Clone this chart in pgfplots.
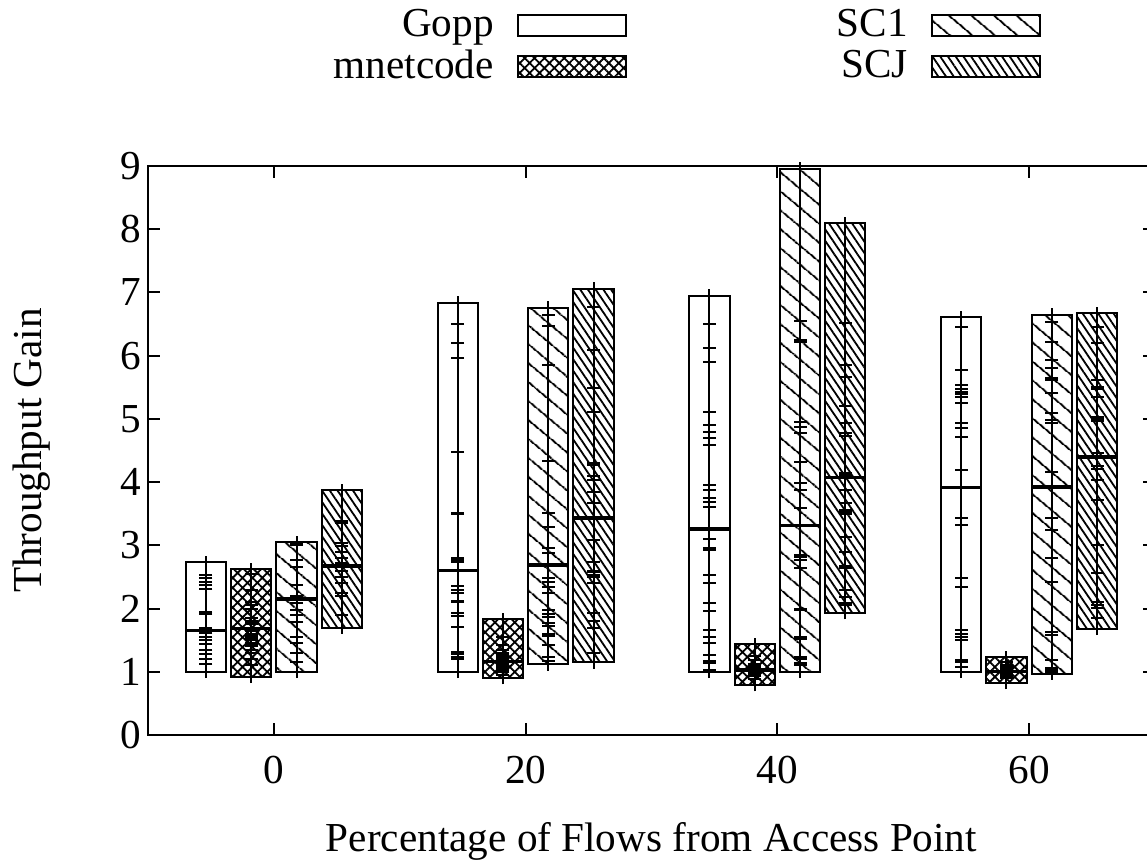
\documentclass[border=0pt]{standalone}
\usepackage{fontspec}
\setmainfont{Liberation Serif}
\usepackage{pgfplots}
\pgfplotsset{compat=1.18}
\usetikzlibrary{patterns,patterns.meta}

\tikzset{
  gopp/.style={fill=white},
  mnet/.style={pattern={Hatch[angle=45,distance=3.5pt,line width=0.9pt]}},
  sca/.style={pattern={Lines[angle=-40,distance=7.4pt,line width=1pt]}},
  scj/.style={pattern={Lines[angle=-56,distance=3.2pt,line width=0.9pt]}},
}
\newcommand{\lfont}{\fontsize{20.6pt}{24pt}\selectfont}

% #1 centre, #2 bottom, #3 top, #4 median, #5 fill style, #6 values
\newcommand{\bx}[6]{%
  \addplot[forget plot, draw=black, line width=1pt, line cap=rect, line join=miter, #5]
    table[row sep=\\, x expr=\thisrow{x}+(#1)] {x y\\ -1.6 #2\\ 1.6 #2\\ 1.6 #3\\ -1.6 #3\\ -1.6 #2\\};
  \addplot[forget plot, black, line width=1pt]
    table[row sep=\\, x expr=#1, y expr=\thisrow{y}+\thisrow{d}] {y d\\ #2 -0.1\\ #3 0.1\\};
  \addplot[forget plot, black, line width=1.7pt]
    table[row sep=\\, x expr=\thisrow{x}+(#1)] {x y\\ -1.6 #4\\ 1.6 #4\\};
  \addplot[forget plot, black, only marks, mark=-, mark size=3.25pt, mark options={line width=1pt}]
    table[row sep=\\, header=false, x expr=#1, y index=0] {#6};
}

\begin{document}
\begin{tikzpicture}
\begin{axis}[
  at={(0,0)}, anchor=south west,
  scale only axis, width=503.5pt, height=284.5pt,
  xmin=-10, xmax=70, ymin=0, ymax=9,
  xtick={0,20,40,60}, ytick={0,1,...,9},
  tick align=inside, tick pos=both,
  xticklabel pos=lower, yticklabel pos=left,
  major tick length=6pt,
  every tick/.style={black, line width=1pt},
  axis line style={line width=1pt},
  clip=false,
  font=\lfont,
  tick label style={font=\lfont},
  xticklabel style={yshift=-7pt},
  label style={font=\lfont},
  /pgf/number format/assume math mode=true,
  xlabel={Percentage of Flows from Access Point},
  ylabel={Throughput Gain},
  xlabel style={at={(axis description cs:0.5,-0.187)}, anchor=center},
  ylabel style={at={(axis description cs:-0.116,0.5)}, anchor=center},
  legend columns=2, legend plot pos=right, legend cell align=right,
  legend style={draw=none, fill=none, font=\lfont,
    at={(axis description cs:0.176,1.286)}, anchor=north west,
    nodes={inner sep=1pt}, row sep=3pt,
    /tikz/every odd column/.append style={column sep=10.5pt},
    /tikz/column 2/.append style={column sep=104pt}},
]
\addlegendimage{legend image code/.code={\draw[line width=1pt,gopp] (0pt,-5.5pt) rectangle (54pt,5pt);}}
\addlegendentry{Gopp}
\addlegendimage{legend image code/.code={\draw[line width=1pt,sca] (0pt,-5.5pt) rectangle (54pt,5pt);}}
\addlegendentry{SC1}
\addlegendimage{legend image code/.code={\draw[line width=1pt,mnet] (0pt,-5.5pt) rectangle (54pt,5pt);}}
\addlegendentry{mnetcode}
\addlegendimage{legend image code/.code={\draw[line width=1pt,scj] (0pt,-5.5pt) rectangle (54pt,5pt);}}
\addlegendentry{SCJ}

% group 0
\bx{-5.4}{1.0}{2.73}{1.65}{gopp}{1.12\\1.2\\1.28\\1.34\\1.44\\1.5\\1.55\\1.62\\1.7\\1.91\\1.95\\2.31\\2.37\\2.42\\2.48\\2.53\\}
\bx{-1.8}{0.92}{2.62}{1.68}{mnet}{1.1\\1.2\\1.3\\1.35\\1.4\\1.43\\1.46\\1.5\\1.53\\1.57\\1.6\\1.64\\1.75\\1.78\\1.81\\1.85\\2.0\\2.05\\2.1\\2.3\\2.55\\}
\bx{1.8}{1.0}{3.05}{2.15}{sca}{1.15\\1.3\\1.45\\1.55\\1.79\\1.9\\1.98\\2.09\\2.2\\2.37\\2.66\\2.77\\3.0\\3.02\\}
\bx{5.4}{1.7}{3.87}{2.67}{scj}{1.9\\2.2\\2.25\\2.4\\2.5\\2.6\\2.72\\2.8\\2.9\\2.99\\3.04\\3.35\\3.38\\}
% group 20
\bx{14.6}{1.0}{6.84}{2.6}{gopp}{1.2\\1.24\\1.28\\1.31\\1.71\\1.88\\1.93\\2.1\\2.12\\2.25\\2.3\\2.36\\2.73\\2.77\\2.8\\3.49\\3.51\\4.48\\5.97\\6.2\\6.5\\}
\bx{18.2}{0.9}{1.83}{1.16}{mnet}{0.95\\1.0\\1.03\\1.06\\1.08\\1.1\\1.12\\1.14\\1.18\\1.2\\1.23\\1.26\\1.3\\1.35\\1.42\\1.55\\}
\bx{21.8}{1.12}{6.76}{2.69}{sca}{1.17\\1.23\\1.42\\1.56\\1.6\\1.72\\1.77\\1.87\\1.92\\1.98\\2.24\\2.34\\2.42\\2.48\\2.88\\2.96\\3.29\\3.51\\4.33\\5.85\\6.47\\6.65\\}
\bx{25.4}{1.15}{7.06}{3.43}{scj}{1.3\\1.69\\1.8\\1.93\\2.4\\2.5\\2.53\\2.58\\2.6\\2.73\\3.08\\3.67\\3.85\\4.03\\4.1\\4.27\\4.3\\5.11\\5.49\\6.09\\6.77\\}
% group 40
\bx{34.6}{1.0}{6.95}{3.26}{gopp}{1.03\\1.14\\1.17\\1.27\\1.45\\1.55\\1.66\\1.96\\2.09\\2.4\\2.53\\2.93\\2.96\\3.1\\3.61\\3.68\\3.75\\3.88\\3.96\\4.59\\4.7\\4.8\\4.9\\5.11\\5.9\\6.12\\6.5\\}
\bx{38.2}{0.79}{1.44}{1.03}{mnet}{0.88\\0.93\\0.96\\0.98\\1.0\\1.02\\1.04\\1.06\\1.08\\1.1\\1.13\\1.18\\1.25\\}
\bx{41.8}{1.0}{8.96}{3.31}{sca}{1.1\\1.14\\1.2\\1.24\\1.52\\1.55\\1.97\\2.0\\2.64\\2.77\\2.82\\2.85\\3.59\\3.88\\3.98\\4.32\\4.78\\4.87\\4.95\\6.22\\6.25\\6.55\\}
\bx{45.4}{1.93}{8.1}{4.07}{scj}{2.05\\2.09\\2.18\\2.3\\2.64\\2.68\\2.9\\3.13\\3.49\\3.53\\3.56\\3.67\\3.88\\4.12\\4.15\\4.73\\4.78\\4.94\\5.2\\5.67\\5.85\\6.52\\}
% group 60
\bx{54.6}{1.0}{6.61}{3.91}{gopp}{1.08\\1.15\\1.19\\1.5\\1.55\\1.6\\1.66\\2.34\\2.48\\3.32\\3.43\\4.19\\4.72\\4.85\\4.94\\5.25\\5.35\\5.4\\5.43\\5.47\\5.54\\5.78\\6.46\\}
\bx{58.2}{0.82}{1.23}{1.0}{mnet}{0.9\\0.94\\0.97\\0.99\\1.0\\1.02\\1.04\\1.07\\1.1\\1.15\\}
\bx{61.8}{0.97}{6.65}{3.92}{sca}{1.0\\1.03\\1.06\\1.19\\1.58\\1.63\\2.42\\2.8\\3.25\\3.43\\4.16\\4.94\\4.98\\5.09\\5.41\\5.62\\5.65\\5.8\\5.93\\6.22\\6.53\\}
\bx{65.4}{1.68}{6.67}{4.4}{scj}{1.85\\2.01\\2.05\\2.1\\2.56\\3.0\\3.72\\4.03\\4.21\\4.25\\4.46\\4.96\\5.0\\5.03\\5.35\\5.48\\5.51\\5.62\\6.2\\6.46\\}
\end{axis}
\pgfresetboundingbox
\path (-74pt,-62.5pt) rectangle (499.5pt,367.5pt);
\end{tikzpicture}
\end{document}
